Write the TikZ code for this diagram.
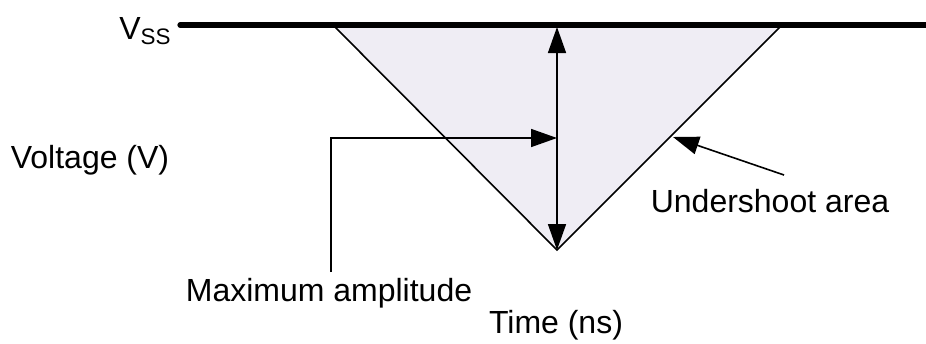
\documentclass[tikz,border=0pt]{standalone}
\usepackage{fontspec}
\setmainfont{Liberation Sans}
\usetikzlibrary{arrows.meta}
\definecolor{areafill}{HTML}{EFEDF4}
\tikzset{
  lbl/.style={inner sep=0pt, font=\fontsize{16}{18}\selectfont},
  thin/.style={line width=0.8pt},
  tip/.style={-{Triangle[length=13pt,width=9pt]}},
  dtip/.style={{Triangle[length=13pt,width=9pt]}-{Triangle[length=13pt,width=9pt]}}
}
\begin{document}
\begin{tikzpicture}[x=0.5pt,y=-0.5pt]
\useasboundingbox (0,0) rectangle (926,343);
% triangle area
\coordinate (tl) at (333,25);
\coordinate (tr) at (782,25);
\coordinate (bot) at (557,250);
\coordinate (top) at (557,27);
\fill[areafill] (tl) -- (tr) -- (bot) -- cycle;
\draw[thin] (tl) -- (bot) -- (tr);
% Vss line
\coordinate (vssL) at (180,25);
\coordinate (vssR) at (930,25);
\draw[line width=2.6pt, line cap=round] (vssL) -- (vssR);
% double arrow
\draw[thin, dtip] (top) -- (bot);
% labels
\node[lbl, anchor=east] (vss) at (172,31) {V\textsubscript{SS}};
\node[lbl] (volt) at (90,160) {Voltage (V)};
\node[lbl] (under) at (770,201) {Undershoot area};
\node[lbl] (maxamp) at (329,293) {Maximum amplitude};
\node[lbl] (time) at (556,325) {Time (ns)};
% max amplitude leader
\coordinate (mstart) at (331,272);
\coordinate (mcorner) at (331,138);
\coordinate (mtip) at (557,138);
\draw[thin, tip] (mstart) -- (mcorner) -- (mtip);
% undershoot leader
\coordinate (ustart) at (784,175);
\coordinate (utip) at (673,137);
\draw[thin, tip] (ustart) -- (utip);
\end{tikzpicture}
\end{document}
